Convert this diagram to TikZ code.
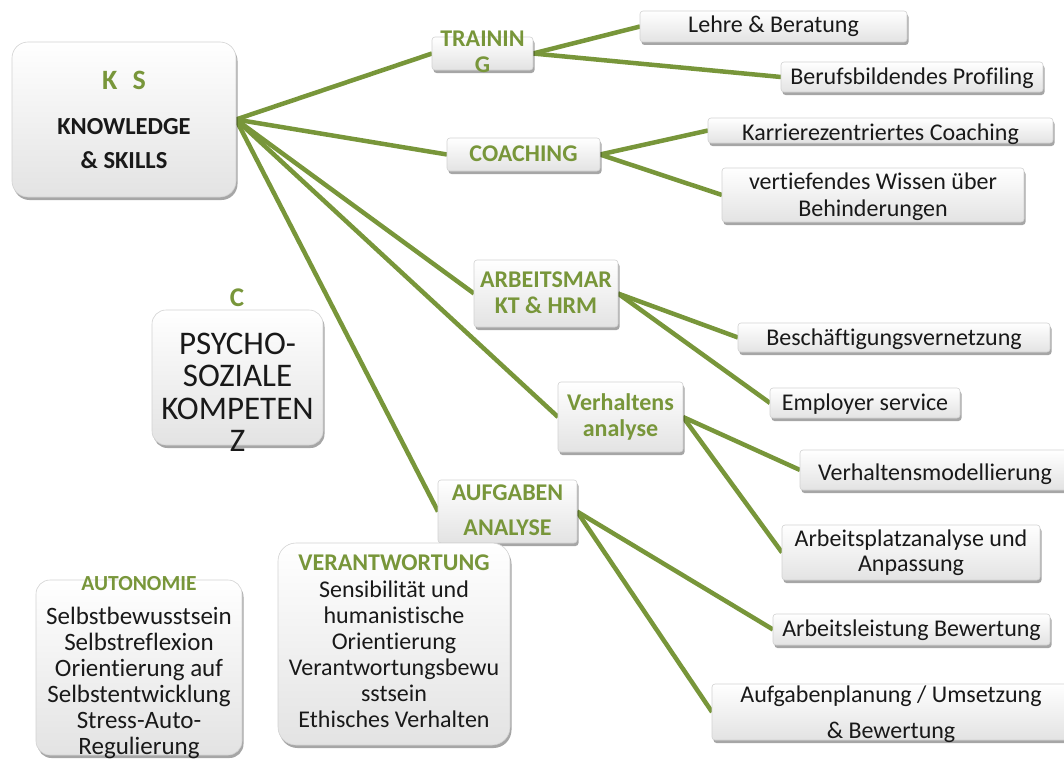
\documentclass[tikz,border=0pt]{standalone}
\usepackage{fontspec}
\setmainfont{Carlito}[Ligatures=NoCommon]
\usetikzlibrary{shadows,backgrounds}
\definecolor{olive}{RGB}{120,150,58}
\definecolor{txtdark}{RGB}{25,25,25}
\newcommand\mltext[2]{\raisebox{#1}[0pt][0pt]{\begin{tabular}[t]{@{}c@{}}#2\end{tabular}}}
\tikzset{
  boxbase/.style={draw=gray!35, line width=0.6pt, top color=white, bottom color=gray!22,
    inner sep=0pt, outer sep=0pt,
    drop shadow={shadow xshift=1.5pt, shadow yshift=-3pt, opacity=0.35, fill=black}},
  leaf/.style={boxbase, rounded corners=3pt, text=txtdark, font=\fontsize{24}{27}\selectfont},
  hub/.style={boxbase, rounded corners=3pt, text=olive, font=\bfseries\fontsize{24}{26}\selectfont},
  bigbox/.style={boxbase, rounded corners=16pt, text=txtdark},
  link/.style={draw=olive, line width=4.5pt}
}
\begin{document}
\begin{tikzpicture}[x=1pt,y=-1pt]
\useasboundingbox (0,0) rectangle (1064,760);
% main box
\node[bigbox, minimum width=224, minimum height=155, font=\bfseries\fontsize{24.5}{34}\selectfont] (ks) at (124,119.5)
  {\mltext{30.5pt}{{\color{olive}\fontsize{28}{30}\selectfont K\hspace{0.55em}S}\\[11.7pt] KNOWLEDGE\\ \& SKILLS}};
% hubs
\node[hub, minimum width=101, minimum height=33] (train) at (482.5,53.5)
  {\mltext{6.5pt}{TRAININ\\[-1pt] G}};
\node[hub, minimum width=153, minimum height=33] (coach) at (523.5,154.5)
  {\mltext{-7.2pt}{COACHING}};
\node[hub, minimum width=144, minimum height=67] (arbeit) at (546,293.5)
  {\mltext{6.5pt}{ARBEITSMAR\\ KT \& HRM}};
\node[hub, minimum width=125, minimum height=70] (verh) at (620.5,417)
  {\mltext{7pt}{Verhaltens\\[0.7pt] analyse}};
\node[hub, minimum width=139, minimum height=63] (aufg) at (507.5,511.5)
  {\mltext{11.5pt}{AUFGABEN\\[9pt] ANALYSE}};
% psycho-social
\node[text=olive, font=\bfseries\fontsize{27}{30}\selectfont, inner sep=0pt] (clab) at (237,298) {C};
\node[bigbox, rounded corners=14pt, minimum width=171, minimum height=135, font=\fontsize{33}{32.5}\selectfont] (psycho) at (237.5,377.5)
  {\mltext{23.5pt}{PSYCHO-\\ SOZIALE\\ KOMPETEN\\ Z}};
\node[bigbox, rounded corners=14pt, minimum width=206, minimum height=175, font=\fontsize{25}{26}\selectfont] (auton) at (139,667.5)
  {\mltext{77.1pt}{{\color{olive}\bfseries\fontsize{21.5}{24}\selectfont AUTONOMIE}\\[8.3pt] Selbstbewusstsein\\ Selbstreflexion\\ Orientierung auf\\ Selbstentwicklung\\ Stress-Auto-\\ Regulierung}};
\node[bigbox, rounded corners=18pt, minimum width=232, minimum height=202, font=\fontsize{24}{26}\selectfont] (verant) at (394,644)
  {\mltext{73.3pt}{{\color{olive}\bfseries VERANTWORTUNG}\\[1pt] Sensibilität und\\ humanistische\\ Orientierung\\ Verantwortungsbewu\\ sstsein\\ Ethisches Verhalten}};
% leaves
\node[leaf, minimum width=267, minimum height=31] (lehre) at (773.5,26.5) {\mltext{-6.5pt}{Lehre \& Beratung}};
\node[leaf, minimum width=262, minimum height=30] (beruf) at (912,77) {\mltext{-8pt}{Berufsbildendes Profiling}};
\node[leaf, minimum width=345, minimum height=25] (karr) at (880.5,130.5) {\mltext{-9.5pt}{Karrierezentriertes Coaching}};
\node[leaf, minimum width=302, minimum height=54] (vert) at (873,195) {\mltext{5.3pt}{vertiefendes Wissen über\\ Behinderungen}};
\node[leaf, minimum width=312, minimum height=29] (besch) at (894,337.5) {\mltext{-7.5pt}{Beschäftigungsvernetzung}};
\node[leaf, minimum width=190, minimum height=30] (empl) at (865,403) {\mltext{-7pt}{Employer service}};
\node[leaf, minimum width=270, minimum height=40] (verhm) at (935,470) {\mltext{-10pt}{Verhaltensmodellierung}};
\node[leaf, minimum width=258, minimum height=55] (arbpl) at (911,552.5) {\mltext{5.8pt}{Arbeitsplatzanalyse und\\[-2pt] Anpassung}};
\node[leaf, minimum width=277, minimum height=31] (arbl) at (911.5,629.5) {\mltext{-7.2pt}{Arbeitsleistung Bewertung}};
\node[leaf, minimum width=358, minimum height=56] (aufpl) at (891,712) {\mltext{9.3pt}{Aufgabenplanung / Umsetzung\\[9pt] \& Bewertung}};
% connectors
\begin{scope}[on background layer]
\draw[link] (ks.east) -- (train.west);
\draw[link] (ks.east) -- (coach.west);
\draw[link] (ks.east) -- (arbeit.west);
\draw[link] (ks.east) -- (verh.west);
\draw[link] (ks.east) -- (aufg.west);
\draw[link] (train.east) -- (lehre.west);
\draw[link] (train.east) -- (beruf.west);
\draw[link] (coach.east) -- (karr.west);
\draw[link] (coach.east) -- (vert.west);
\draw[link] (arbeit.east) -- (besch.west);
\draw[link] (arbeit.east) -- (empl.west);
\draw[link] (verh.east) -- (verhm.west);
\draw[link] (verh.east) -- (arbpl.west);
\draw[link] (aufg.east) -- (arbl.west);
\draw[link] (aufg.east) -- (aufpl.west);
\end{scope}
\end{tikzpicture}
\end{document}
